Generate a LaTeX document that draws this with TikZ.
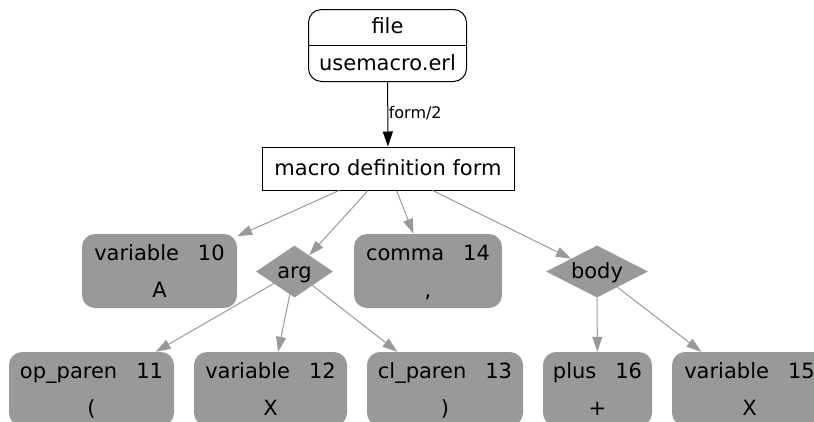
\documentclass[tikz,border=0pt]{standalone}
\usepackage{fontspec}
\setmainfont{DejaVu Sans}
\usetikzlibrary{shapes.geometric,arrows.meta}
\definecolor{tokgray}{RGB}{153,153,153}
\tikzset{
  tok/.style={draw=none, fill=tokgray, rounded corners=13pt, minimum height=74pt,
    inner sep=0pt, align=center, font=\fontsize{21}{37}\selectfont},
  dia/.style={diamond, draw=none, fill=tokgray, minimum height=52pt, inner sep=0pt,
    aspect=2, text height=16pt, text depth=2pt, font=\fontsize{21}{25}\selectfont},
  edge/.style={draw=tokgray, line width=1pt, -{Triangle[length=15pt,width=10pt]}},
  plain/.style={font=\fontsize{21}{25}\selectfont, inner sep=0pt},
}
\newcommand{\Ltop}{\rule{0pt}{18pt}}
\newcommand{\Lbot}{\rule[-3pt]{0pt}{3pt}}
\newcommand{\gap}{\hspace{19pt}}
\begin{document}
\begin{tikzpicture}[x=1pt,y=-1pt]
\useasboundingbox (0,0) rectangle (814,421);
\clip (0,0) rectangle (814,421);
\fill[white] (0,0) rectangle (814,421);
% file node
\node[draw=black, line width=1pt, rounded corners=13pt, minimum width=158pt, minimum height=72pt, inner sep=0pt] (file) at (387.5,45.5) {};
\draw[black, line width=1pt] (file.west) -- (file.east);
\node[plain, anchor=base] (filet) at (387.5,33) {file};
\node[plain, anchor=base] (fileb) at (387.5,70) {usemacro.erl};
% macro definition form
\node[draw=black, line width=1pt, minimum width=252pt, minimum height=43pt, inner sep=0pt,
  text height=16pt, text depth=3pt, font=\fontsize{21}{25}\selectfont] (mdf) at (388,168.5) {macro definition form};
\draw[black, line width=1pt, -{Triangle[length=15pt,width=10pt]}] (file) -- node[pos=0.5, anchor=west, inner sep=0pt, xshift=0.5pt, yshift=1pt, font=\fontsize{16}{19}\selectfont] (lab) {form/2} (mdf);
% middle row
\node[tok, minimum width=155pt] (v10) at (159.5,271) {\Ltop variable\gap 10\\A\Lbot};
\node[dia, minimum width=77pt] (arg) at (294.5,271.5) {arg};
\node[tok, minimum width=148pt] (c14) at (428,271) {\Ltop comma\gap 14\\,\Lbot};
\node[dia, minimum width=102pt] (body) at (597,271.5) {body};
% bottom row
\node[tok, minimum width=165pt] (op) at (91.5,389) {\Ltop op\_paren\gap 11\\(\Lbot};
\node[tok, minimum width=153pt] (v12) at (270.5,389) {\Ltop variable\gap 12\\X\Lbot};
\node[tok, minimum width=156pt] (cl) at (445,389) {\Ltop cl\_paren\gap 13\\)\Lbot};
\node[tok, minimum width=109pt] (plus) at (597.5,389) {\Ltop plus\gap 16\\+\Lbot};
\node[tok, minimum width=155pt] (v15) at (749.5,389) {\Ltop variable\gap 15\\X\Lbot};
% edges
\draw[edge] (mdf) -- (v10);
\draw[edge] (mdf) -- (arg);
\draw[edge] (mdf) -- (c14);
\draw[edge] (mdf) -- (body);
\draw[edge] (arg) -- (op);
\draw[edge] (arg) -- (v12);
\draw[edge] (arg) -- (cl);
\draw[edge] (body) -- (plus);
\draw[edge] (body) -- (v15);
\end{tikzpicture}
\end{document}
